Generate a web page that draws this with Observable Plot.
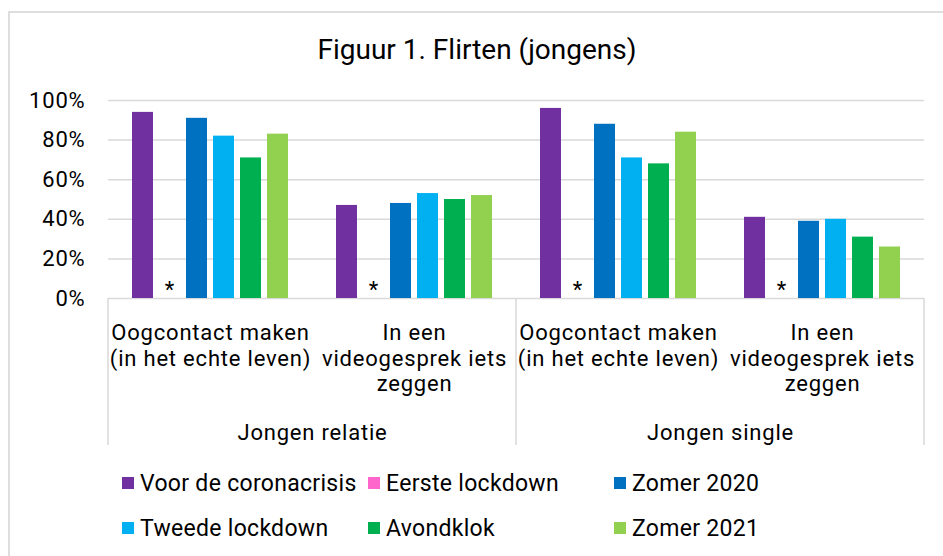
<!DOCTYPE html>
<html>
<head>
<meta charset="utf-8">
<script src="https://cdn.jsdelivr.net/npm/d3@7"></script>
<script src="https://cdn.jsdelivr.net/npm/@observablehq/plot@0.6"></script>
<style>
  html, body { margin: 0; padding: 0; background: #fff; }
  body { width: 943px; height: 556px; position: relative; overflow: hidden; font-family: Roboto, "Noto Sans", sans-serif; color: #000; }
  #frame { position: absolute; left: 8px; top: 11px; width: 1000px; height: 700px; border: 2px solid #dedede; box-sizing: border-box; }
  #title { position: absolute; left: 0; top: 34px; width: 954px; text-align: center; font-size: 28px; line-height: 32px; }
  #chart { position: absolute; left: 0; top: 80px; }
  #chart text { letter-spacing: 0.8px; }
  #legend { position: absolute; left: 122px; top: 471px; display: grid; grid-template-columns: 246px 246px 246px; grid-auto-rows: 45px; font-size: 23px; letter-spacing: 0.3px; }
  .item { display: flex; align-items: center; height: 24px; white-space: nowrap; }
  .sw { width: 12px; height: 12px; margin-right: 6px; flex: none; }
</style>
</head>
<body>
<div id="frame"></div>
<div id="title">Figuur 1. Flirten (jongens)</div>
<div id="chart"></div>
<div id="legend"></div>
<script>
// ---- data ----
const groups = ["Jongen relatie", "Jongen single"];
const items = ["Oogcontact maken\n(in het echte leven)", "In een\nvideogesprek iets\nzeggen"];
const seriesNames = ["Voor de coronacrisis", "Eerste lockdown", "Zomer 2020", "Tweede lockdown", "Avondklok", "Zomer 2021"];
const seriesColors = ["#7030A0", "#FF66CC", "#0070C0", "#00B0F0", "#00B050", "#92D050"];
// order: relatie-oogcontact, relatie-video, single-oogcontact, single-video
const voorCorona     = [94, 47, 96, 41];
const eersteLockdown = [null, null, null, null]; // shown as *
const zomer2020      = [91, 48, 88, 39];
const tweedeLockdown = [82, 53, 71, 40];
const avondklok      = [71, 50, 68, 31];
const zomer2021      = [83, 52, 84, 26];
const yTicks = [0, 20, 40, 60, 80, 100];

// ---- build table ----
const seriesValues = [voorCorona, eersteLockdown, zomer2020, tweedeLockdown, avondklok, zomer2021];
const cats = [];
groups.forEach((g, gi) => items.forEach((it, ii) => cats.push({key: g + "|" + ii, group: g, label: it, first: ii === 0})));
const rows = [];
cats.forEach((c, ci) => seriesNames.forEach((s, si) => rows.push({key: c.key, series: s, value: seriesValues[si][ci]})));
const bars = rows.filter(d => d.value != null);
const missing = rows.filter(d => d.value == null);
const groupLabels = cats.filter(c => c.first).map(c => ({key: c.key, group: c.group}));

const plot = Plot.plot({
  width: 943,
  height: 380,
  marginLeft: 107,
  marginRight: 18,
  marginTop: 20,
  marginBottom: 162,
  style: {fontFamily: "Roboto, sans-serif", color: "#000", background: "transparent"},
  fx: {domain: cats.map(c => c.key), padding: 0, axis: null},
  x: {domain: seriesNames, paddingInner: 0.21, paddingOuter: 0.85, axis: null},
  y: {domain: [0, 100], axis: null},
  color: {domain: seriesNames, range: seriesColors},
  marks: [
    Plot.ruleY(yTicks, {y: d => d, stroke: "#d9d9d9", strokeWidth: 1.5}),
    Plot.axisY(yTicks, {tickFormat: d => d + "%", tickSize: 0, tickPadding: 23, fontSize: 22, label: null, fill: "#000"}),
    Plot.barY(bars, {fx: "key", x: "series", y: "value", fill: "series"}),
    Plot.text(missing, {fx: "key", x: "series", y: 0, text: () => "*", dy: -9, fontSize: 22, fill: "#000"}),
    Plot.text(cats, {fx: "key", text: "label", frameAnchor: "bottom", lineAnchor: "top", dy: 23, fontSize: 22, lineHeight: 1.17, fill: "#000"}),
    Plot.text(groupLabels, {fx: "key", text: "group", frameAnchor: "bottom-right", textAnchor: "middle", lineAnchor: "top", dy: 126, fontSize: 22, fill: "#000"})
  ]
});
document.getElementById("chart").appendChild(plot);

// group separators below the axis, from the library's scales
const fx = plot.scale("fx");
const y = plot.scale("y");
const keys = cats.map(c => c.key);
const xs = [fx.apply(keys[0]), fx.apply(keys[2]), fx.apply(keys[3]) + fx.bandwidth];
const y0 = y.apply(0);
d3.select(plot).append("g")
  .selectAll("line").data(xs).join("line")
  .attr("x1", d => d).attr("x2", d => d)
  .attr("y1", y0).attr("y2", y0 + 147)
  .attr("stroke", "#d9d9d9").attr("stroke-width", 1.5);

// legend
const legend = d3.select("#legend");
seriesNames.forEach((s, i) => {
  const it = legend.append("div").attr("class", "item");
  it.append("div").attr("class", "sw").style("background", seriesColors[i]);
  it.append("span").text(s);
});
</script>
</body>
</html>
